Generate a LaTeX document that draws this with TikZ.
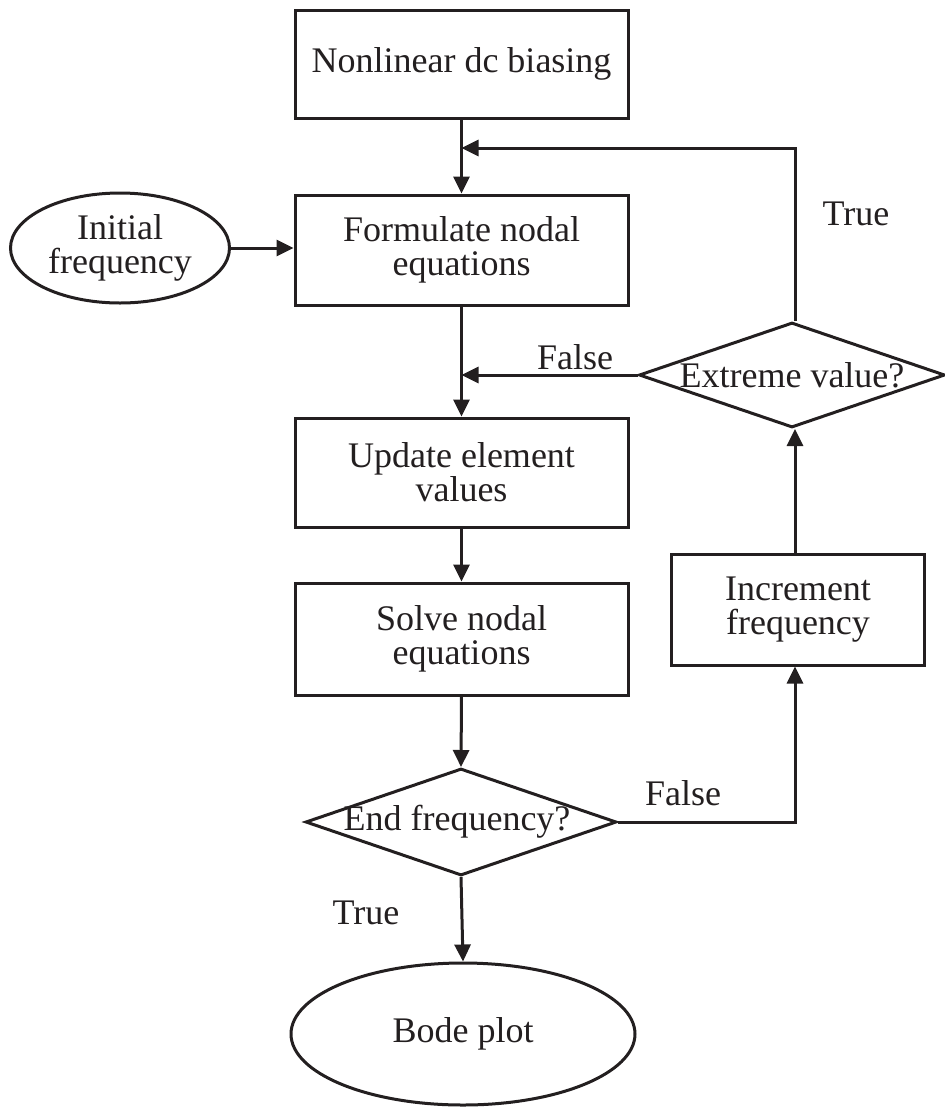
\documentclass[tikz,border=0pt]{standalone}
\usepackage{fontspec}
\setmainfont{Liberation Serif}
\usetikzlibrary{shapes.geometric,arrows.meta}
\definecolor{ink}{RGB}{35,31,32}
\begin{document}
\begin{tikzpicture}[x=0.5pt,y=-0.5pt,
  every node/.style={font=\fontsize{18}{17}\selectfont, text=ink},
  shp/.style={draw=ink, line width=1.5pt, inner sep=0pt, align=center},
  stepbox/.style={shp, rectangle, minimum width=166.5pt},
  decision/.style={shp, diamond},
  term/.style={shp, ellipse},
  conn/.style={draw=ink, line width=1.5pt, -{Triangle[length=8.5pt,width=8pt]}},
  lbl/.style={inner sep=0pt}]
\useasboundingbox (0,0) rectangle (945,1109);

\node[stepbox, minimum height=54pt] (nl) at (461.5,64) {Nonlinear dc biasing};
\node[stepbox, minimum height=55pt] (fm) at (461.5,250) {Formulate nodal\\equations};
\node[stepbox, minimum height=54.5pt] (up) at (461.5,472.5) {Update element\\values};
\node[stepbox, minimum height=56pt] (sv) at (461.5,639) {Solve nodal\\equations};
\node[decision, minimum width=155.5pt, minimum height=53.5pt] (ef) at (461,822) {\makebox[0pt]{\kern-4pt End frequency?}};
\node[term, minimum width=172pt, minimum height=71pt] (bode) at (463,1034) {Bode plot};
\node[term, minimum width=109.5pt, minimum height=55pt] (init) at (120,248) {Initial\\frequency};
\node[shp, rectangle, minimum width=126.5pt, minimum height=55.5pt] (inc) at (798,609.5) {Increment\\frequency};
\node[decision, minimum width=153pt, minimum height=52.5pt] (ev) at (792,375) {\makebox[0pt]{Extreme value?}};

\coordinate (col) at (795,0);
\coordinate (j1) at (461.5,148);
\coordinate (j2) at (461.5,375);

\draw[conn] (nl.south) -- (fm.north);
\draw[conn] (col |- ev.north) -- (col |- j1) -- (j1);
\draw[conn] (init.east) -- (init.east -| fm.west);
\draw[conn] (fm.south) -- (up.north);
\draw[conn] (ev.west) -- (j2);
\draw[conn] (up.south) -- (sv.north);
\draw[conn] (sv.south) -- (ef.north);
\draw[conn] (ef.east) -- (ef.east -| col) -- (col |- inc.south);
\draw[conn] (col |- inc.north) -- (col |- ev.south);
\draw[conn] (ef.south) -- (bode.north);

\node[lbl] (t1) at (856,214) {True};
\node[lbl] (f1) at (575,357) {False};
\node[lbl] (f2) at (683,793) {False};
\node[lbl] (t2) at (366,913) {True};
\end{tikzpicture}
\end{document}
